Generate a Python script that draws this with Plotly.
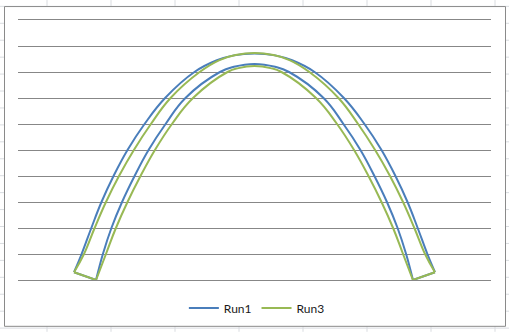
import plotly.graph_objects as go

# ---- data ----
run1_outer_x = [2.37, 2.69, 3.10, 3.53, 4.04, 4.63, 5.35, 6.22, 7.46, 8.41, 9.13, 10.0,
                10.87, 11.59, 12.54, 13.78, 14.65, 15.37, 15.96, 16.47, 16.90, 17.31, 17.63]
run1_outer_y = [0.30, 1, 2, 3, 4, 5, 6, 7, 8, 8.45, 8.64, 8.71,
                8.64, 8.45, 8, 7, 6, 5, 4, 3, 2, 1, 0.30]
run1_inner_x = [3.30, 3.59, 3.95, 4.40, 4.93, 5.52, 6.24, 7.08, 8.54, 9.13, 10.0,
                10.87, 11.46, 12.92, 13.76, 14.48, 15.07, 15.60, 16.05, 16.41, 16.70]
run1_inner_y = [0, 1, 2, 3, 4, 5, 6, 7, 8, 8.20, 8.31,
                8.20, 8, 7, 6, 5, 4, 3, 2, 1, 0]

run3_outer_x = [2.37, 2.79, 3.24, 3.72, 4.27, 4.90, 5.62, 6.45, 7.68, 8.52, 9.20, 10.0,
                10.80, 11.48, 12.32, 13.55, 14.38, 15.10, 15.73, 16.28, 16.76, 17.21, 17.63]
run3_outer_y = [0.30, 1, 2, 3, 4, 5, 6, 7, 8, 8.46, 8.65, 8.73,
                8.65, 8.46, 8, 7, 6, 5, 4, 3, 2, 1, 0.30]
run3_inner_x = [3.30, 3.72, 4.14, 4.63, 5.18, 5.79, 6.51, 7.40, 8.86, 9.32, 10.0,
                10.68, 11.14, 12.60, 13.49, 14.21, 14.82, 15.37, 15.86, 16.28, 16.70]
run3_inner_y = [0, 1, 2, 3, 4, 5, 6, 7, 8, 8.15, 8.23,
                8.15, 8, 7, 6, 5, 4, 3, 2, 1, 0]

series_names = ["Run1", "Run3"]
series_colors = ["#4A7EBB", "#98B954"]

# spreadsheet background grid (pixel positions of the sheet behind the chart)
sheet_cols_px = [47, 111, 175, 239, 303, 367, 431, 495]
sheet_rows_px = [6.3, 23.3, 40.3, 57.3, 74.3, 91.3, 108.3, 125.3, 142.3, 159.3, 176.3,
                 193.3, 210.3, 227.3, 244.3, 261.3, 278.3, 295.3, 312.3, 329.3]

W, H = 509, 333
ML, MR, MT, MB = 18, 18, 20, 52

fig = go.Figure()

runs = [
    (run1_outer_x, run1_outer_y, run1_inner_x, run1_inner_y),
    (run3_outer_x, run3_outer_y, run3_inner_x, run3_inner_y),
]
for (ox, oy, ix, iy), name, color in zip(runs, series_names, series_colors):
    line = dict(color=color, width=2)
    fig.add_trace(go.Scatter(x=ox, y=oy, mode="lines", name=name, legendgroup=name,
                             line=dict(line, shape="spline", smoothing=1.2),
                             showlegend=True, hoverinfo="skip"))
    fig.add_trace(go.Scatter(x=ix, y=iy, mode="lines", name=name, legendgroup=name,
                             line=dict(line, shape="spline", smoothing=1.2),
                             showlegend=False, hoverinfo="skip"))
    fig.add_trace(go.Scatter(x=[ox[-1], ix[-1], None, ix[0], ox[0]],
                             y=[oy[-1], iy[-1], None, iy[0], oy[0]],
                             mode="lines", name=name, legendgroup=name,
                             line=line, showlegend=False, hoverinfo="skip"))

pw = W - ML - MR
ph = H - MT - MB


def px_to_paper_x(px):
    return (px - ML) / pw


def px_to_paper_y(py):
    return (H - MB - py) / ph


shapes = []
for cx in sheet_cols_px:
    shapes.append(dict(type="line", xref="paper", yref="paper",
                       x0=px_to_paper_x(cx), x1=px_to_paper_x(cx),
                       y0=px_to_paper_y(0), y1=px_to_paper_y(H),
                       line=dict(color="#D9DCE0", width=1), layer="below"))
for ry in sheet_rows_px:
    shapes.append(dict(type="line", xref="paper", yref="paper",
                       x0=px_to_paper_x(0), x1=px_to_paper_x(W),
                       y0=px_to_paper_y(ry), y1=px_to_paper_y(ry),
                       line=dict(color="#D9DCE0", width=1), layer="below"))
shapes.append(dict(type="rect", xref="paper", yref="paper",
                   x0=px_to_paper_x(4.5), x1=px_to_paper_x(505.5),
                   y0=px_to_paper_y(327.5), y1=px_to_paper_y(6.5),
                   fillcolor="white", line=dict(color="#8A8A8A", width=1), layer="below"))

fig.update_layout(
    width=W, height=H,
    margin=dict(l=ML, r=MR, t=MT, b=MB, pad=0),
    paper_bgcolor="white", plot_bgcolor="rgba(0,0,0,0)",
    shapes=shapes,
    showlegend=True,
    legend=dict(orientation="h", x=0.505, xanchor="center",
                y=px_to_paper_y(308), yanchor="middle",
                font=dict(family="Lato", size=12, color="#1a1a1a"),
                bgcolor="rgba(0,0,0,0)", traceorder="normal",
                itemwidth=30),
    xaxis=dict(range=[0, 20], showgrid=False, zeroline=False, showticklabels=False,
               ticks="", showline=True, mirror=True, linecolor="#878787", linewidth=1,
               fixedrange=True),
    yaxis=dict(range=[0, 10], dtick=1, tick0=0, showgrid=True, gridcolor="#878787",
               gridwidth=1, zeroline=False, showticklabels=False, ticks="",
               showline=False, fixedrange=True),
)

fig.write_html("out.html")
